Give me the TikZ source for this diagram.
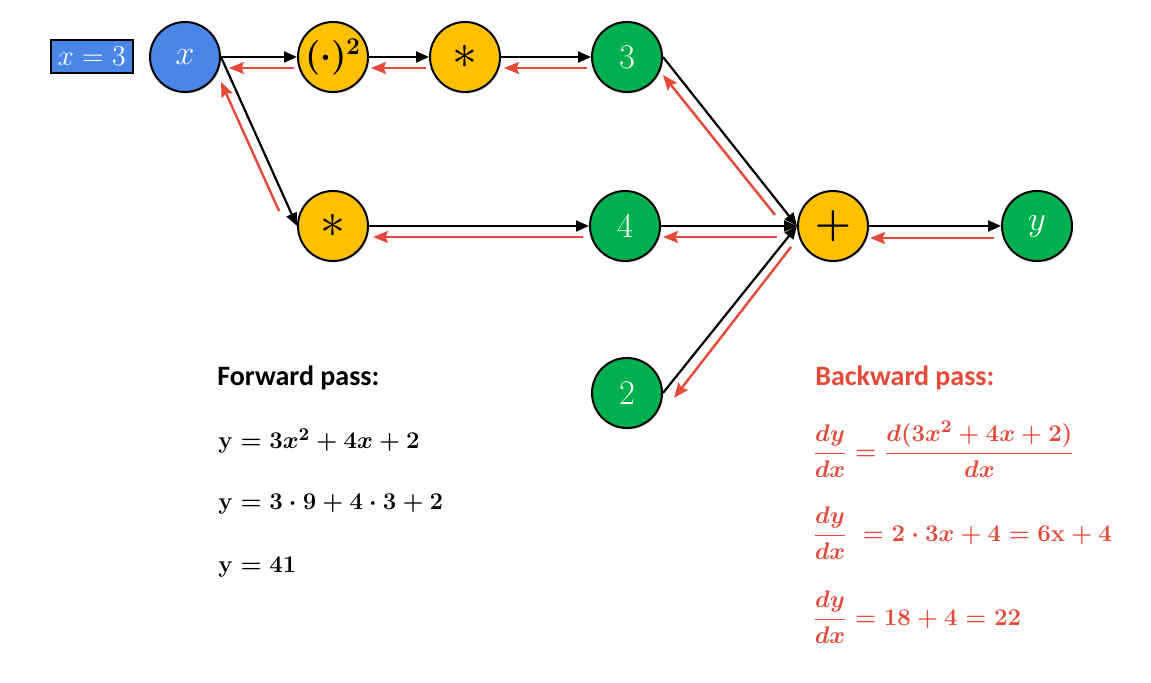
\documentclass[tikz,border=0pt]{standalone}
\usepackage{amsmath,bm}
\usepackage{fontspec}
\newfontfamily\headfont{Carlito}
\usetikzlibrary{arrows.meta,calc,shadows}
\definecolor{nblue}{HTML}{4A86E8}
\definecolor{norange}{HTML}{FFC000}
\definecolor{ngreen}{HTML}{00B050}
\definecolor{bred}{HTML}{E5493A}
\tikzset{
  opnode/.style={circle,draw=black,line width=1pt,minimum size=35pt,inner sep=0pt,
    drop shadow={opacity=0.25,shadow xshift=0.6pt,shadow yshift=-0.8pt},
    font=\fontsize{16.5}{19}\selectfont},
  bluenode/.style={opnode,fill=nblue,text=white},
  orangenode/.style={opnode,fill=norange,text=black},
  greennode/.style={opnode,fill=ngreen,text=white},
  fwd/.style={draw=black,line width=1.1pt,-{Triangle[length=6.5pt,width=5.5pt]}},
  bwd/.style={draw=bred,line width=1.2pt,-{Stealth[length=7.5pt,width=6pt,inset=1.2pt]}},
  eqtext/.style={anchor=west,inner sep=0pt,font=\fontsize{13}{15}\selectfont\boldmath},
  headtext/.style={anchor=west,inner sep=0pt,font=\headfont\bfseries\fontsize{14}{17}\selectfont},
}
\begin{document}
\begin{tikzpicture}[x=0.5pt,y=-0.5pt]
\useasboundingbox[fill=white] (0,0) rectangle (1151,683);
% input box
\node[draw=black,line width=1pt,fill=nblue,text=white,minimum width=41pt,minimum height=16.5pt,inner sep=0pt,
  font=\fontsize{15}{18}\selectfont] (inp) at (92,56.5) {$x=3$};
% nodes
\node[bluenode] (x) at (185,57) {$x$};
\node[orangenode,font=\fontsize{16.5}{19}\selectfont\boldmath] (sq) at (333,57) {$(\cdot)^{2}$};
\node[orangenode,font=\fontsize{23}{26}\selectfont] (m1) at (465,57) {$\ast$};
\node[greennode] (n3) at (627,57) {$3$};
\node[orangenode,font=\fontsize{23}{26}\selectfont] (m2) at (333,226) {$\ast$};
\node[greennode] (n4) at (625,226) {$4$};
\node[orangenode,font=\fontsize{20}{22}\selectfont\boldmath] (plus) at (833,226) {$+$};
\node[greennode] (yy) at (1037,226) {$y$};
\node[greennode] (n2) at (627,393) {$2$};
% forward edges
\draw[fwd] (x.east) -- (sq.west);
\draw[fwd] (sq.east) -- (m1.west);
\draw[fwd] (m1.east) -- (n3.west);
\draw[fwd] (x.east) -- (m2.west);
\draw[fwd] (m2.east) -- (n4.west);
\draw[fwd] (n3.east) -- (plus.west);
\draw[fwd] (n4.east) -- (plus.west);
\draw[fwd] (n2.east) -- (plus.west);
\draw[fwd] (plus.east) -- (yy.west);
% backward edges
\draw[bwd] ($(sq.west)+(-3,11)$) -- ($(x.east)+(8,11)$);
\draw[bwd] ($(m1.west)+(-3,11)$) -- ($(sq.east)+(2,11)$);
\draw[bwd] ($(n3.west)+(-4,11)$) -- ($(m1.east)+(3,11)$);
\draw[bwd] ($(n4.west)+(-6,11)$) -- ($(m2.east)+(4,11)$);
\draw[bwd] ($(plus.west)+(-20,11)$) -- ($(n4.east)+(2,11)$);
\draw[bwd] ($(yy.west)+(-7,12)$) -- ($(plus.east)+(1,12)$);
\draw[bwd] ($(m2.west)+(-18,-15)$) -- ($(x.east)+(0,25)$);
\draw[bwd] ($(plus.west)+(-22,-11)$) -- ($(n3.east)+(0,18)$);
\draw[bwd] ($(plus.west)+(-6,21)$) -- ($(n2.east)+(11,5)$);
% forward pass text
\node[headtext] (fh) at (217,378) {Forward pass:};
\node[eqtext] (f1) at (218,441) {$\mathbf{y}=3x^{2}+4x+2$};
\node[eqtext] (f2) at (218,504) {$\mathbf{y}=3\cdot 9+4\cdot 3+2$};
\node[eqtext] (f3) at (218,567) {$\mathbf{y}=41$};
% backward pass text
\node[headtext,text=bred] (bh) at (815,378) {Backward pass:};
\node[eqtext,text=bred] (b1) at (812,449) {$\dfrac{dy}{dx}=\dfrac{d(3x^{2}+4x+2)}{dx}$};
\node[eqtext,text=bred] (b2) at (812,533) {$\dfrac{dy}{dx}\;=2\cdot 3x+4=6\mathbf{x}+4$};
\node[eqtext,text=bred] (b3) at (812,617) {$\dfrac{dy}{dx}=18+4=22$};
\end{tikzpicture}
\end{document}
